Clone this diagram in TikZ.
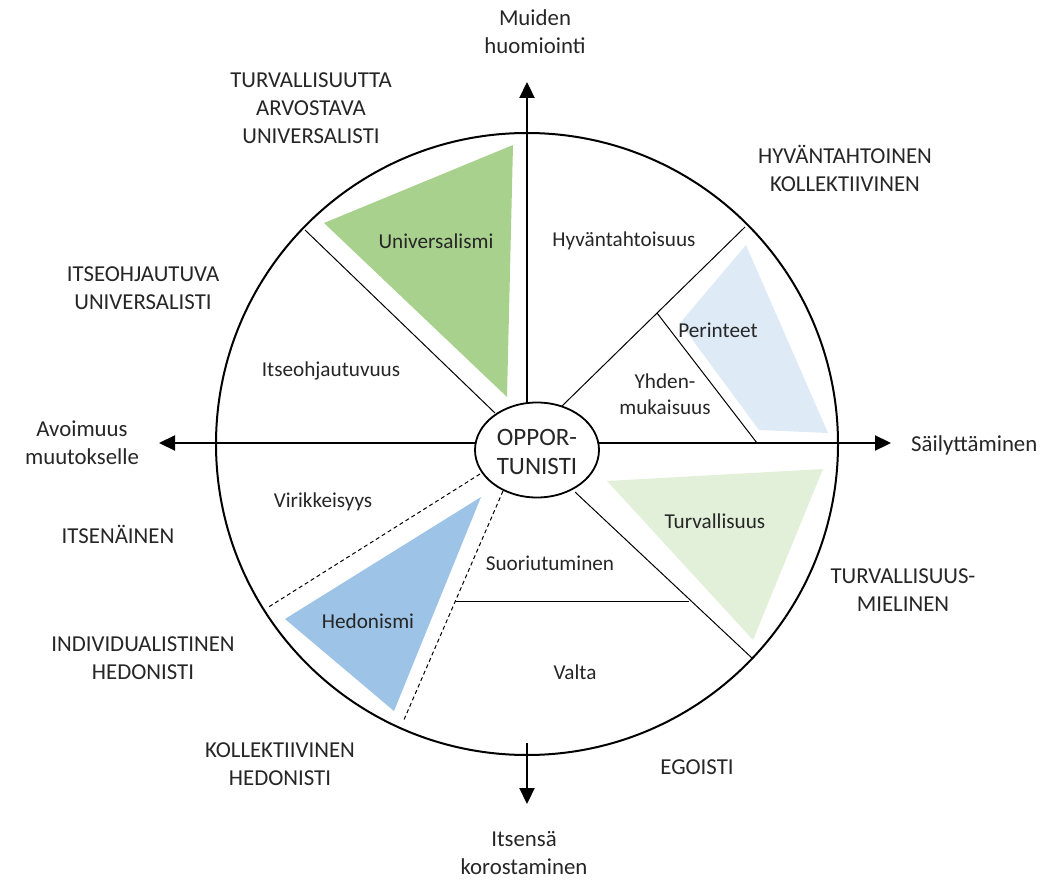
\documentclass[tikz,border=0pt]{standalone}
\usepackage{fontspec}
\setmainfont{Carlito}
\usetikzlibrary{arrows.meta,shapes.geometric}
\definecolor{txt}{HTML}{262626}
\definecolor{ugreen}{HTML}{A9D18E}
\definecolor{pblue}{HTML}{DEEBF7}
\definecolor{tgreen}{HTML}{E2F0D9}
\definecolor{hblue}{HTML}{9DC3E6}
\begin{document}
\begin{tikzpicture}[x=1pt,y=-1pt,
  outerlbl/.style={font=\fontsize{22.8}{28}\selectfont, text=txt, align=center, inner sep=0pt},
  innerlbl/.style={font=\fontsize{21.2}{26}\selectfont, text=txt, align=center, inner sep=0pt},
  centrelbl/.style={font=\fontsize{25}{29}\selectfont, text=txt, align=center, inner sep=0pt},
  axisline/.style={line width=2.2pt, -{Triangle[length=16pt,width=15pt]}},
  divider/.style={line width=1pt},
  dashdiv/.style={line width=1pt, dash pattern=on 4pt off 3pt}]
\useasboundingbox (0,0) rectangle (1062,882);

% filled value shapes
\fill[ugreen] (324,223) -- (513,145) -- (507,397) -- cycle;
\fill[pblue] (680,323) -- (746,245) -- (828,433) -- (759,430) -- cycle;
\fill[tgreen] (607,481) -- (823,469) -- (753,640) -- cycle;
\fill[hblue] (285,619) -- (481,497) -- (394,711) -- cycle;

% outer circle
\node[circle, draw, line width=2pt, minimum size=622pt, inner sep=0pt] (ring) at (527,444) {};

% dividers
\coordinate (d1a) at (305,230); \coordinate (d1b) at (495,413);
\coordinate (d2a) at (745,227); \coordinate (d2b) at (560,408);
\coordinate (d3a) at (657,313); \coordinate (d3b) at (757,443);
\coordinate (d4a) at (575,492); \coordinate (d4b) at (753,659);
\coordinate (d5a) at (456,601); \coordinate (d5b) at (689,601);
\coordinate (d6a) at (480,474); \coordinate (d6b) at (267,608);
\coordinate (d7a) at (503,491); \coordinate (d7b) at (403,722);
\draw[divider] (d1a) -- (d1b);
\draw[divider] (d2a) -- (d2b);
\draw[divider] (d3a) -- (d3b);
\draw[divider] (d4a) -- (d4b);
\draw[divider] (d5a) -- (d5b);
\draw[dashdiv] (d6a) -- (d6b);
\draw[dashdiv] (d7a) -- (d7b);

% axes
\coordinate (vt) at (527,404); \coordinate (vtop) at (527,82);
\coordinate (vb) at (527,743); \coordinate (vbot) at (527,804);
\coordinate (hl) at (476,443); \coordinate (hleft) at (159,443);
\coordinate (hr) at (598,443); \coordinate (hright) at (891,443);
\draw[axisline] (vt) -- (vtop);
\draw[axisline] (vb) -- (vbot);
\draw[axisline] (hl) -- (hleft);
\draw[axisline] (hr) -- (hright);

% centre
\node[ellipse, draw, fill=white, line width=1.8pt, minimum width=124pt, minimum height=95pt, inner sep=0pt] (opp) at (537,450) {};
\node[centrelbl] (opptxt) at (537,452) {OPPOR-\\TUNISTI};

% inner labels
\node[innerlbl] (univ) at (436,241) {Universalismi};
\node[innerlbl] (hyv) at (624,241) {Hyväntahtoisuus};
\node[innerlbl] (itse) at (331,371) {Itseohjautuvuus};
\node[innerlbl] (peri) at (718,330) {Perinteet};
\node[innerlbl] (yhd) at (665,394) {Yhden-\\mukaisuus};
\node[innerlbl] (viri) at (323,502) {Virikkeisyys};
\node[innerlbl] (turv) at (715,521) {Turvallisuus};
\node[innerlbl] (suor) at (550,563) {Suoriutuminen};
\node[innerlbl] (hedo) at (368,621) {Hedonismi};
\node[innerlbl] (valta) at (575,672) {Valta};

% outer labels
\node[outerlbl] (muid) at (535,32) {Muiden\\huomiointi};
\node[outerlbl] (tau) at (311,108) {TURVALLISUUTTA\\ARVOSTAVA\\UNIVERSALISTI};
\node[outerlbl] (hk) at (845,168) {HYVÄNTAHTOINEN\\KOLLEKTIIVINEN};
\node[outerlbl] (iu) at (143,288) {ITSEOHJAUTUVA\\UNIVERSALISTI};
\node[outerlbl] (avo) at (82,443) {Avoimuus\\muutokselle};
\node[outerlbl, anchor=west] (sail) at (911,445) {Säilyttäminen};
\node[outerlbl] (itsen) at (118,534) {ITSENÄINEN};
\node[outerlbl] (turvm) at (903,590) {TURVALLISUUS-\\MIELINEN};
\node[outerlbl] (ih) at (143,658) {INDIVIDUALISTINEN\\HEDONISTI};
\node[outerlbl] (kh) at (280,764) {KOLLEKTIIVINEN\\HEDONISTI};
\node[outerlbl] (ego) at (697,767) {EGOISTI};
\node[outerlbl] (itsk) at (524,853) {Itsensä\\korostaminen};
\end{tikzpicture}
\end{document}
